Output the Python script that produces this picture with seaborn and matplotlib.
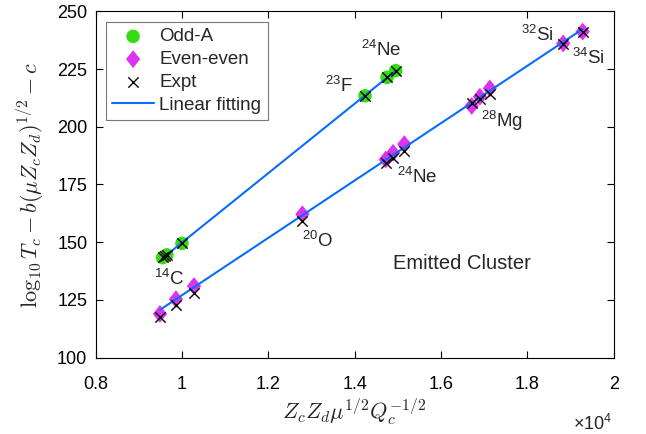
import numpy as np
import matplotlib
matplotlib.use("Agg")
import matplotlib.pyplot as plt
from matplotlib.path import Path
import seaborn as sns

# x values in units of 1e4
odd_x = [0.955, 0.960, 0.965, 1.000, 1.424, 1.475, 1.495]
odd_y = [143.3, 143.9, 144.5, 149.5, 213.4, 221.4, 224.3]
odd_expt = [143.6, 144.0, 144.4, 149.8, 213.3, 221.6, 224.2]

even_x = [0.949, 0.986, 1.028, 1.279, 1.472, 1.489, 1.515, 1.671, 1.690, 1.713, 1.883, 1.928]
even_y = [118.9, 125.3, 131.0, 162.1, 185.8, 188.7, 192.5, 209.0, 213.0, 216.6, 236.1, 241.2]
even_expt = [117.6, 122.9, 128.2, 159.1, 184.1, 186.3, 189.6, 210.1, 212.0, 214.2, 235.7, 240.9]

labels = ["$^{24}$Ne", "$^{23}$F", "$^{14}$C", "$^{20}$O", "$^{24}$Ne", "$^{28}$Mg", "$^{32}$Si", "$^{34}$Si"]
label_x = [1.461, 1.364, 0.970, 1.313, 1.544, 1.741, 1.822, 1.942]
label_y = [233.2, 217.6, 133.9, 150.4, 178.2, 202.4, 239.7, 229.8]

green = "#33dd11"
magenta = "#dd33ee"
blue = "#0a6cff"

# matlab-like diamond (a bit taller than wide)
diamond = Path([(0, 1), (0.8, 0), (0, -1), (-0.8, 0), (0, 1)],
               [Path.MOVETO, Path.LINETO, Path.LINETO, Path.LINETO, Path.CLOSEPOLY])

sns.set_theme(style="ticks")
plt.rcParams["font.family"] = ["Liberation Sans", "DejaVu Sans"]
plt.rcParams["mathtext.fontset"] = "custom"
plt.rcParams["mathtext.rm"] = "Liberation Sans"
plt.rcParams["mathtext.it"] = "Liberation Sans:italic"
plt.rcParams["xtick.direction"] = "in"
plt.rcParams["ytick.direction"] = "in"
plt.rcParams["xtick.top"] = True
plt.rcParams["ytick.right"] = True

fig = plt.figure(figsize=(6.46, 4.34), dpi=100)
ax = fig.add_axes([0.148, 0.176, 0.802, 0.798])

# fitted lines
for xs, ys in [(odd_x, odd_y), (even_x, even_y)]:
    k, b = np.polyfit(xs, ys, 1)
    xx = np.array([min(xs), max(xs)])
    sns.lineplot(x=xx, y=k * xx + b, color=blue, lw=1.5, ax=ax, zorder=3)

sns.scatterplot(x=odd_x, y=odd_y, color=green, marker="o", s=95, edgecolor="none", ax=ax, zorder=2, label="Odd-A")
sns.scatterplot(x=even_x, y=even_y, color=magenta, marker=diamond, s=165, edgecolor="none", ax=ax, zorder=2, label="Even-even")
sns.scatterplot(x=odd_x + even_x, y=odd_expt + even_expt, color="black", marker="x", s=55, linewidth=1.0, ax=ax, zorder=4, label="Expt")
ax.plot([], [], color=blue, lw=1.5, label="Linear fitting")

for t, lx, ly in zip(labels, label_x, label_y):
    ax.text(lx, ly, t, fontsize=13.5, ha="center", va="center")
ax.text(1.648, 140.9, "Emitted Cluster", fontsize=14.5, ha="center", va="center")

ax.set_xlim(0.8, 2.0)
ax.set_ylim(100, 250)
ax.set_xticks([0.8, 1, 1.2, 1.4, 1.6, 1.8, 2])
ax.set_xticklabels(["0.8", "1", "1.2", "1.4", "1.6", "1.8", "2"])
ax.set_yticks([100, 125, 150, 175, 200, 225, 250])
ax.tick_params(labelsize=13, length=5, width=0.8, colors="black")
ax.tick_params(axis="x", pad=13)
ax.tick_params(axis="y", pad=6)
for s in ax.spines.values():
    s.set_linewidth(0.8)
    s.set_color("black")

ax.set_xlabel(r"$Z_cZ_d\mu^{1/2}Q_c^{-1/2}$", fontsize=16, math_fontfamily="cm", labelpad=3)
ax.set_ylabel(r"$\log_{10}T_c - b(\mu Z_cZ_d)^{1/2} - c$", fontsize=16, math_fontfamily="cm", labelpad=8)
fig.text(0.948, 0.0, r"$\times$10$^4$", fontsize=13, ha="right", va="bottom")

leg = ax.legend(loc="upper left", fontsize=13.5, frameon=True, fancybox=False,
                edgecolor="#555555", borderpad=0.35, labelspacing=0.3, handlelength=2.2,
                handletextpad=0.3, bbox_to_anchor=(0.0, 1.0), borderaxespad=0.55)
leg.get_frame().set_linewidth(0.8)

fig.savefig("out.png", dpi=100)
